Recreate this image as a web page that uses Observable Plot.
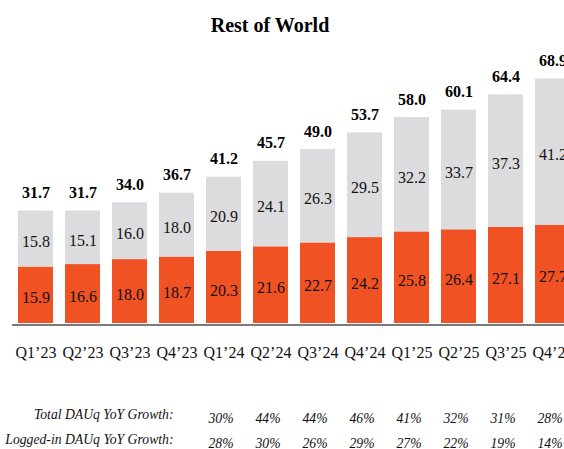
<!DOCTYPE html>
<html>
<head>
<meta charset="utf-8">
<script src="https://cdn.jsdelivr.net/npm/d3@7"></script>
<script src="https://cdn.jsdelivr.net/npm/@observablehq/plot@0.6"></script>
<style>
  html, body { margin: 0; padding: 0; background: #fff; width: 564px; height: 449px; overflow: hidden; }
  #wrap { position: relative; width: 564px; height: 449px; }
  #title { position: absolute; left: 0; top: 12px; width: 540px; text-align: center;
           font-family: "Liberation Serif", "Times New Roman", serif; font-weight: bold; font-size: 20px; line-height: 26px; color: #000; }
  #chart { position: absolute; left: 0; top: 50px; }
  #chart svg { overflow: visible; }
  #chart svg, #chart svg text { font-family: "Liberation Serif", "Times New Roman", serif !important; }
</style>
</head>
<body>
<div id="wrap">
  <div id="title">Rest of World</div>
  <div id="chart"></div>
</div>
<script>
const quarters = ["Q1’23","Q2’23","Q3’23","Q4’23","Q1’24","Q2’24","Q3’24","Q4’24","Q1’25","Q2’25","Q3’25","Q4’25"];
const loggedIn = [15.9,16.6,18.0,18.7,20.3,21.6,22.7,24.2,25.8,26.4,27.1,27.7];
const loggedOut = [15.8,15.1,16.0,18.0,20.9,24.1,26.3,29.5,32.2,33.7,37.3,41.2];
const totals = [31.7,31.7,34.0,36.7,41.2,45.7,49.0,53.7,58.0,60.1,64.4,68.9];
const growthQuarters = ["Q1’24","Q2’24","Q3’24","Q4’24","Q1’25","Q2’25","Q3’25","Q4’25"];
const totalGrowth = ["30%","44%","44%","46%","41%","32%","31%","28%"];
const loggedGrowth = ["28%","30%","26%","29%","27%","22%","19%","14%"];

const ORANGE = "#F05224";
const GRAY = "#DCDCDE";
const SERIF = "'Liberation Serif', 'Times New Roman', serif";

const segs = [];
quarters.forEach((q, i) => {
  segs.push({q, y1: 0, y2: loggedIn[i], v: loggedIn[i], kind: "in"});
  segs.push({q, y1: loggedIn[i], y2: loggedIn[i] + loggedOut[i], v: loggedOut[i], kind: "out"});
});
const tot = quarters.map((q, i) => ({q, t: totals[i]}));
const g1 = growthQuarters.map((q, i) => ({q, s: totalGrowth[i]}));
const g2 = growthQuarters.map((q, i) => ({q, s: loggedGrowth[i]}));

const chart = Plot.plot({
  width: 564,
  height: 399,
  marginTop: 24.5,
  marginBottom: 126,
  marginLeft: 12,
  marginRight: 0,
  style: {background: "transparent", fontFamily: SERIF},
  x: {domain: quarters, range: [12, 576], paddingInner: 0.255, paddingOuter: 0.1275, axis: null},
  y: {domain: [0, 70], axis: null},
  marks: [
    Plot.rectY(segs, {x: "q", y1: "y1", y2: "y2", fill: d => d.kind === "in" ? ORANGE : GRAY}),
    Plot.ruleY([0], {stroke: "#7a7a7a", strokeWidth: 2, dy: 1.5}),
    Plot.text(segs, {x: "q", y: d => (d.y1 + d.y2) / 2, text: d => d.v.toFixed(1), fill: "#111", fontSize: 16, fontFamily: SERIF, dy: 3}),
    Plot.text(tot, {x: "q", y: "t", text: d => d.t.toFixed(1), fill: "#000", fontSize: 16, fontWeight: "bold", fontFamily: SERIF, dy: -18}),
    Plot.text(quarters, {x: d => d, y: () => 0, text: d => d, fill: "#111", fontSize: 16, fontFamily: SERIF, dy: 29}),
    Plot.text(g1, {x: "q", y: () => 0, text: "s", fill: "#111", fontSize: 13.7, fontStyle: "italic", fontFamily: SERIF, dy: 95, dx: -3}),
    Plot.text(g2, {x: "q", y: () => 0, text: "s", fill: "#111", fontSize: 13.7, fontStyle: "italic", fontFamily: SERIF, dy: 120, dx: -3}),
    Plot.text(["Total DAUq YoY Growth:"], {frameAnchor: "bottom-left", text: d => d, textAnchor: "end", dx: 161, dy: 95, fill: "#111", fontSize: 13.7, fontStyle: "italic", fontFamily: SERIF}),
    Plot.text(["Logged-in DAUq YoY Growth:"], {frameAnchor: "bottom-left", text: d => d, textAnchor: "end", dx: 161, dy: 120, fill: "#111", fontSize: 13.7, fontStyle: "italic", fontFamily: SERIF})
  ]
});
document.getElementById("chart").appendChild(chart);
</script>
</body>
</html>
